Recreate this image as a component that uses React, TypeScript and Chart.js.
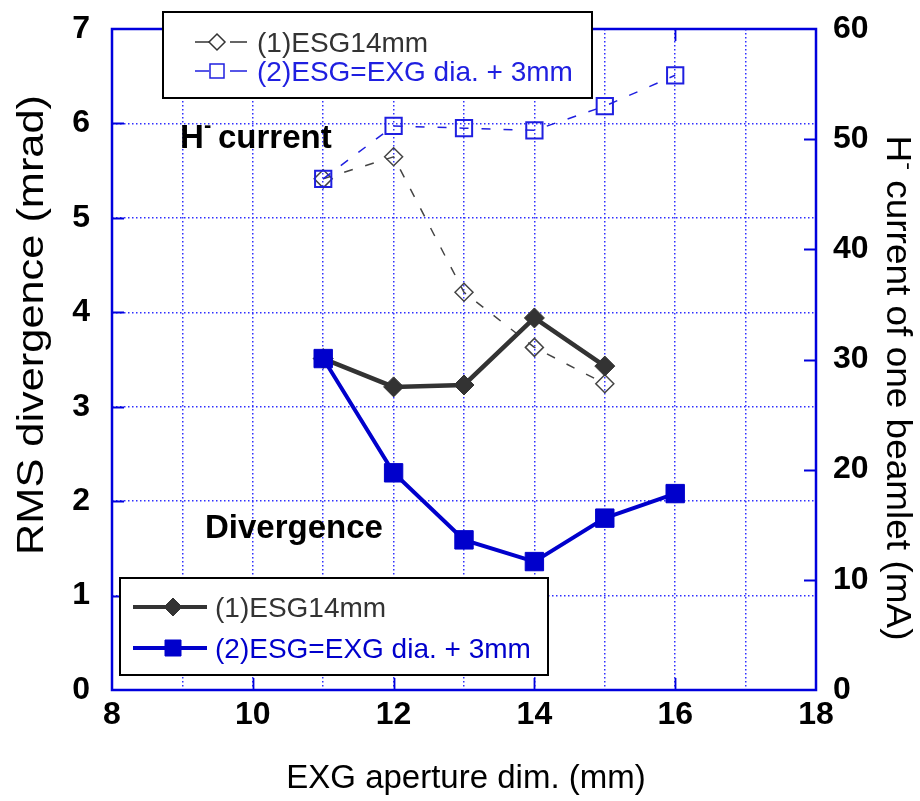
import React, { useEffect, useRef } from 'react';
import { Chart, registerables } from 'chart.js';

Chart.register(...registerables);

// ---------- data ----------
const xAperture1 = [11, 12, 13, 14, 15];
const xAperture2 = [11, 12, 13, 14, 15, 16];
const divergence1 = [3.51, 3.21, 3.23, 3.94, 3.43];
const divergence2 = [3.51, 2.3, 1.59, 1.36, 1.82, 2.08];
const current1 = [46.4, 48.4, 36.1, 31.1, 27.8];
const current2 = [46.4, 51.2, 51.0, 50.8, 53.0, 55.8];
const xTickLabels = ['8', '10', '12', '14', '16', '18'];
const seriesNames = ['(1)ESG14mm', '(2)ESG=EXG dia. + 3mm'];

const FONT = "'Liberation Sans', Arial, sans-serif";
const GRID_BLUE = '#2f2fff';
const FRAME_BLUE = '#0000dd';
const DARK = '#333333';
const BLUE = '#0000cc';
const DASH_BLUE = '#1f1fe0';

function pts(xs: number[], ys: number[]) {
  return xs.map((x, i) => ({ x, y: ys[i] }));
}

type Part = { t: string; sup?: boolean };

function drawParts(ctx: CanvasRenderingContext2D, parts: Part[], x: number, y: number, size: number, weight: string) {
  let cx = x;
  for (const p of parts) {
    if (p.sup) {
      ctx.font = `${weight} ${Math.round(size * 0.62)}px ${FONT}`;
      ctx.fillText(p.t, cx, y - size * 0.42);
    } else {
      ctx.font = `${weight} ${size}px ${FONT}`;
      ctx.fillText(p.t, cx, y);
    }
    cx += ctx.measureText(p.t).width;
  }
  return cx - x;
}

function measureParts(ctx: CanvasRenderingContext2D, parts: Part[], size: number, weight: string) {
  let w = 0;
  for (const p of parts) {
    ctx.font = p.sup ? `${weight} ${Math.round(size * 0.62)}px ${FONT}` : `${weight} ${size}px ${FONT}`;
    w += ctx.measureText(p.t).width;
  }
  return w;
}

function drawRotated(ctx: CanvasRenderingContext2D, parts: Part[], cx: number, cy: number, angle: number, size: number, length: number) {
  ctx.save();
  ctx.translate(cx, cy);
  ctx.rotate(angle);
  const w = measureParts(ctx, parts, size, 'normal');
  const sx = length / w;
  ctx.scale(sx, 1);
  ctx.textAlign = 'left';
  ctx.textBaseline = 'alphabetic';
  ctx.fillStyle = '#000';
  drawParts(ctx, parts, -w / 2, 0, size, 'normal');
  ctx.restore();
}

function marker(ctx: CanvasRenderingContext2D, style: string, x: number, y: number, r: number, fill: string | null, stroke: string, lw: number) {
  ctx.save();
  ctx.beginPath();
  if (style === 'diamond') {
    ctx.moveTo(x, y - r);
    ctx.lineTo(x + r, y);
    ctx.lineTo(x, y + r);
    ctx.lineTo(x - r, y);
    ctx.closePath();
  } else {
    ctx.rect(x - r, y - r, 2 * r, 2 * r);
  }
  if (fill) {
    ctx.fillStyle = fill;
    ctx.fill();
  }
  ctx.lineWidth = lw;
  ctx.strokeStyle = stroke;
  ctx.stroke();
  ctx.restore();
}

const decorPlugin = {
  id: 'decor',
  beforeDatasetsDraw(chart: any) {
    const { ctx, chartArea: a, scales } = chart;
    ctx.save();
    ctx.strokeStyle = FRAME_BLUE;
    ctx.lineWidth = 1.8;
    ctx.setLineDash([]);
    // inner ticks
    ctx.beginPath();
    for (let v = 1; v <= 6; v++) {
      const y = Math.round(scales.y.getPixelForValue(v)) + 0.5;
      ctx.moveTo(a.left, y);
      ctx.lineTo(a.left + 12, y);
    }
    for (let v = 10; v <= 50; v += 10) {
      const y = Math.round(scales.y1.getPixelForValue(v)) + 0.5;
      ctx.moveTo(a.right, y);
      ctx.lineTo(a.right - 12, y);
    }
    for (let v = 10; v <= 16; v += 2) {
      const x = Math.round(scales.x.getPixelForValue(v)) + 0.5;
      ctx.moveTo(x, a.bottom);
      ctx.lineTo(x, a.bottom - 12);
      ctx.moveTo(x, a.top);
      ctx.lineTo(x, a.top + 12);
    }
    ctx.stroke();
    ctx.lineWidth = 2.5;
    ctx.strokeRect(a.left, a.top, a.right - a.left, a.bottom - a.top);
    ctx.restore();
  },
  afterDraw(chart: any) {
    const { ctx, chartArea: a } = chart;
    ctx.save();
    ctx.fillStyle = '#000';
    ctx.textBaseline = 'alphabetic';
    ctx.textAlign = 'left';

    // annotations
    ctx.font = `bold 33px ${FONT}`;
    ctx.fillText('H', 180, 148);
    ctx.font = `bold 22px ${FONT}`;
    ctx.fillText('-', 204, 132);
    ctx.font = `bold 33px ${FONT}`;
    ctx.fillText('current', 218, 148);
    ctx.fillText('Divergence', 205, 538);

    // axis titles
    ctx.font = `33px ${FONT}`;
    ctx.textAlign = 'center';
    ctx.fillText('EXG aperture dim. (mm)', (a.left + a.right) / 2 + 2, 788);
    ctx.textAlign = 'left';
    drawRotated(ctx, [{ t: 'RMS divergence (mrad)' }], 43, 325, -Math.PI / 2, 37, 460);
    drawRotated(
      ctx,
      [{ t: 'H' }, { t: '-', sup: true }, { t: ' current of one beamlet (mA)' }],
      887,
      388,
      Math.PI / 2,
      35,
      505
    );

    // top legend (H- current)
    ctx.fillStyle = '#fff';
    ctx.fillRect(163, 12, 429, 86);
    ctx.strokeStyle = '#000';
    ctx.lineWidth = 2;
    ctx.strokeRect(163, 12, 429, 86);
    const rows1 = [
      { y: 42, color: DARK, style: 'diamond', r: 8 },
      { y: 71, color: DASH_BLUE, style: 'square', r: 7 },
    ];
    rows1.forEach((row, i) => {
      ctx.strokeStyle = row.color;
      ctx.lineWidth = 1.5;
      ctx.beginPath();
      ctx.moveTo(195, row.y);
      ctx.lineTo(209, row.y);
      ctx.moveTo(230, row.y);
      ctx.lineTo(247, row.y);
      ctx.stroke();
      marker(ctx, row.style, 217, row.y, row.r, null, row.color, 1.5);
      ctx.fillStyle = row.color;
      ctx.font = `28px ${FONT}`;
      ctx.fillText(seriesNames[i], 257, row.y + 10);
    });

    // bottom legend (divergence)
    ctx.fillStyle = '#fff';
    ctx.fillRect(120, 578, 428, 97);
    ctx.strokeStyle = '#000';
    ctx.lineWidth = 2;
    ctx.strokeRect(120, 578, 428, 97);
    const rows2 = [
      { y: 607, color: DARK, style: 'diamond', r: 9 },
      { y: 648, color: BLUE, style: 'square', r: 8 },
    ];
    rows2.forEach((row, i) => {
      ctx.strokeStyle = row.color;
      ctx.lineWidth = 4;
      ctx.beginPath();
      ctx.moveTo(133, row.y);
      ctx.lineTo(207, row.y);
      ctx.stroke();
      marker(ctx, row.style, 173, row.y, row.r, row.color, row.color, 1);
      ctx.fillStyle = row.color;
      ctx.font = `28px ${FONT}`;
      ctx.fillText(seriesNames[i], 215, row.y + 10);
    });
    ctx.restore();
  },
};

export default function App() {
  const ref = useRef<HTMLCanvasElement>(null);
  useEffect(() => {
    const canvas = ref.current!;
    const tickFont = { family: FONT, size: 32, weight: 'bold' as const };
    const zeroPad = (s: any) => {
      s.paddingTop = 0;
      s.paddingBottom = 0;
      s.paddingLeft = 0;
      s.paddingRight = 0;
    };
    const chart = new Chart(canvas, {
      type: 'line',
      data: {
        datasets: [
          {
            label: seriesNames[1] + ' divergence',
            data: pts(xAperture2, divergence2),
            borderColor: BLUE,
            backgroundColor: BLUE,
            borderWidth: 4,
            pointStyle: 'rect',
            pointRadius: 13,
            pointBorderWidth: 1,
            yAxisID: 'y',
            order: 0,
          },
          {
            label: seriesNames[0] + ' divergence',
            data: pts(xAperture1, divergence1),
            borderColor: DARK,
            backgroundColor: DARK,
            borderWidth: 4.5,
            pointStyle: 'rectRot',
            pointRadius: 10,
            pointBorderWidth: 1,
            yAxisID: 'y',
            order: 1,
          },
          {
            label: seriesNames[0] + ' current',
            data: pts(xAperture1, current1),
            borderColor: '#444444',
            backgroundColor: 'rgba(0,0,0,0)',
            pointBackgroundColor: 'rgba(0,0,0,0)',
            borderWidth: 1.5,
            borderDash: [9, 13],
            pointStyle: 'rectRot',
            pointRadius: 9,
            pointBorderWidth: 1.5,
            yAxisID: 'y1',
            order: 3,
          },
          {
            label: seriesNames[1] + ' current',
            data: pts(xAperture2, current2),
            borderColor: DASH_BLUE,
            backgroundColor: 'rgba(0,0,0,0)',
            pointBackgroundColor: 'rgba(0,0,0,0)',
            borderWidth: 1.5,
            borderDash: [9, 13],
            pointStyle: 'rect',
            pointRadius: 11.5,
            pointBorderWidth: 2,
            yAxisID: 'y1',
            order: 2,
          },
        ],
      },
      options: {
        responsive: false,
        animation: false,
        events: [],
        layout: { padding: { top: 29, left: 0, right: 0, bottom: 0 } },
        plugins: { legend: { display: false }, tooltip: { enabled: false } },
        scales: {
          x: {
            type: 'linear',
            min: 8,
            max: 18,
            ticks: {
              stepSize: 1,
              autoSkip: false,
              maxRotation: 0,
              padding: 6,
              color: '#000',
              font: tickFont,
              callback: (v: any) => (xTickLabels.includes(String(v)) ? String(v) : ''),
            },
            grid: { color: GRID_BLUE, lineWidth: 1.5, drawTicks: false },
            border: { display: false, dash: [1.5, 2.5] },
            afterFit: (s: any) => {
              s.height = 111;
              zeroPad(s);
            },
          },
          y: {
            type: 'linear',
            position: 'left',
            min: 0,
            max: 7,
            ticks: { stepSize: 1, padding: 22, color: '#000', font: tickFont },
            grid: { color: GRID_BLUE, lineWidth: 1.5, drawTicks: false },
            border: { display: false, dash: [1.5, 2.5] },
            afterFit: (s: any) => {
              s.width = 112;
              zeroPad(s);
            },
          },
          y1: {
            type: 'linear',
            position: 'right',
            min: 0,
            max: 60,
            ticks: { stepSize: 10, padding: 17, color: '#000', font: tickFont },
            grid: { drawOnChartArea: false, drawTicks: false },
            border: { display: false },
            afterFit: (s: any) => {
              s.width = 104;
              zeroPad(s);
            },
          },
        },
      },
      plugins: [decorPlugin],
    } as any);
    return () => chart.destroy();
  }, []);
  return (
    <div style={{ position: 'absolute', left: 0, top: 0, width: 920, height: 801, background: '#fff' }}>
      <canvas ref={ref} width={920} height={801} style={{ display: 'block', width: 920, height: 801 }} />
    </div>
  );
}
